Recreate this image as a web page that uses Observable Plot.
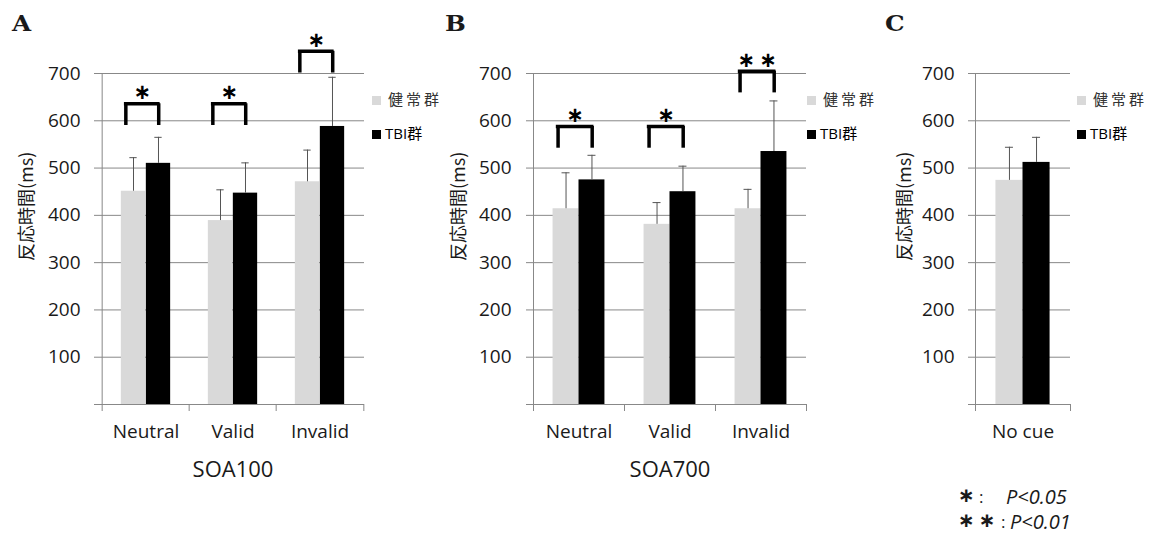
<!DOCTYPE html>
<html><head><meta charset="utf-8">
<script src="https://cdn.jsdelivr.net/npm/d3@7"></script>
<script src="https://cdn.jsdelivr.net/npm/@observablehq/plot@0.6"></script>
<style>
body{margin:0;background:#fff;}
#root{position:relative;width:1160px;height:535px;overflow:hidden;font-family:"Open Sans","Noto Sans CJK JP",sans-serif;color:#1a1a1a;}
.abs{position:absolute;white-space:nowrap;}
.letter{font-family:"DejaVu Serif",serif;font-weight:bold;font-size:22px;line-height:1;transform:scaleX(1.12);transform-origin:left top;}
.sw{position:absolute;width:9px;height:9px;}
.lg{position:absolute;font-size:15px;line-height:1;font-family:"Open Sans","Noto Sans CJK JP",sans-serif;}
.star{font-family:"DejaVu Sans",sans-serif;font-weight:bold;font-size:20px;line-height:1;}
.fn{font-size:20px;line-height:1;font-style:italic;}
</style></head><body><div id="root"></div>
<script>
// ---- data ----
const groups = ["健常群", "TBI群"];
const yTicks = [0, 100, 200, 300, 400, 500, 600, 700];
const yTitle = "反応時間(ms)";

const catsA = ["Neutral", "Valid", "Invalid"];
const healthyA = [451, 389, 471];
const healthySdA = [71, 65, 67];
const tbiA = [510, 447, 588];
const tbiSdA = [55, 64, 104];
const sigA = ["*", "*", "*"];
const sigTopA = [636, 636, 747];
const xTitleA = "SOA100";

const catsB = ["Neutral", "Valid", "Invalid"];
const healthyB = [414, 381, 414];
const healthySdB = [76, 46, 41];
const tbiB = [475, 450, 535];
const tbiSdB = [52, 54, 107];
const sigB = ["*", "*", "**"];
const sigTopB = [588, 588, 705];
const xTitleB = "SOA700";

const catsC = ["No cue"];
const healthyC = [474];
const healthySdC = [70];
const tbiC = [512];
const tbiSdC = [53];

const panelLetters = ["A", "B", "C"];
const footStars = ["*", "**"];
const footText = ["P<0.05", "P<0.01"];

// ---- drawing ----
const GRID = "#888888", TXT = "#1a1a1a", LIGHT = "#d9d9d9";
const root = document.getElementById("root");
const star = s => s.split("").map(() => "∗").join("\u2009");

function panel(o) {
  const n = o.cats.length;
  const bw = (o.width - o.ml - o.mr) / n;
  const H = [], T = [];
  o.cats.forEach((c, i) => {
    H.push({cat: c, value: o.healthy[i], sd: o.hsd[i]});
    T.push({cat: c, value: o.tbi[i], sd: o.tsd[i]});
  });
  const sig = (o.sig || []).map((s, i) => ({cat: o.cats[i], mark: star(s), top: o.sigTop[i], bottom: o.sigTop[i] - 46}));
  const hc = 0.3575 * bw, tc = 0.6425 * bw; // bar centres inside band
  const bL = 0.27 * bw, bR = 0.645 * bw;      // bracket ends inside band
  const marks = [
    Plot.ruleY(yTicks, {y: d => d, stroke: GRID, strokeWidth: 1}),
    Plot.axisY({ticks: yTicks, tickSize: 7, tickPadding: o.tp, stroke: GRID, fill: TXT, fontSize: 19,
                tickFormat: d => d === 0 ? "" : String(d), label: null}),
    Plot.ruleX([o.cats[0]], {x: d => d, dx: -bw / 2, y1: 0, y2: 700, stroke: GRID}),
    Plot.axisX({ticks: o.cats, tickSize: 7, tickFormat: () => "", dx: -bw / 2, stroke: GRID, label: null}),
    Plot.axisX({ticks: [o.cats[n - 1]], tickSize: 7, tickFormat: () => "", dx: bw / 2, stroke: GRID, label: null}),
    Plot.axisX({ticks: o.cats, tickSize: 0, tickPadding: 20, fontSize: 19, fill: TXT, label: null}),
    Plot.barY(H, {x: "cat", y: "value", fill: LIGHT, insetLeft: 0.215 * bw, insetRight: 0.5 * bw}),
    Plot.barY(T, {x: "cat", y: "value", fill: "#000", insetLeft: 0.5 * bw, insetRight: 0.215 * bw}),
    Plot.ruleX(H, {x: "cat", y1: "value", y2: d => d.value + d.sd, dx: hc - bw / 2, stroke: "#555"}),
    Plot.tickY(H, {x: "cat", y: d => d.value + d.sd, insetLeft: hc - 4, insetRight: bw - hc - 4, stroke: "#555"}),
    Plot.ruleX(T, {x: "cat", y1: "value", y2: d => d.value + d.sd, dx: tc - bw / 2, stroke: "#555"}),
    Plot.tickY(T, {x: "cat", y: d => d.value + d.sd, insetLeft: tc - 4, insetRight: bw - tc - 4, stroke: "#555"}),
    Plot.ruleX(sig, {x: "cat", y1: "bottom", y2: "top", dx: bL - bw / 2, stroke: "#000", strokeWidth: 3.5}),
    Plot.ruleX(sig, {x: "cat", y1: "bottom", y2: "top", dx: bR - bw / 2, stroke: "#000", strokeWidth: 3.5}),
    Plot.tickY(sig, {x: "cat", y: "top", insetLeft: bL - 1.75, insetRight: bw - bR - 1.75, stroke: "#000", strokeWidth: 3.5}),
    Plot.text(sig, {x: "cat", y: "top", text: "mark", dx: (bL + bR) / 2 - bw / 2, dy: -11, lineAnchor: "middle",
                    fontFamily: "DejaVu Sans", fontWeight: "bold", fontSize: 21, fill: "#000"}),
    Plot.text([yTitle], {frameAnchor: "left", text: d => d, rotate: -90, dx: o.ytx, dy: 22, lineAnchor: "middle",
                         textAnchor: "start", fontSize: 18, fill: TXT, fontFamily: "Noto Sans CJK JP"})
  ];
  if (o.xTitle) marks.push(Plot.text([o.xTitle], {frameAnchor: "bottom", text: d => d, dy: 65, lineAnchor: "middle", fontSize: 22, fill: TXT}));
  const svg = Plot.plot({
    width: o.width, height: 535,
    marginLeft: o.ml, marginRight: o.mr, marginTop: 73, marginBottom: 131,
    x: {type: "band", domain: o.cats, padding: 0, axis: null},
    y: {domain: [0, 700], axis: null},
    style: {fontFamily: '"Open Sans","Noto Sans CJK JP",sans-serif', background: "transparent", overflow: "visible"},
    marks
  });
  svg.style.position = "absolute";
  svg.style.left = o.left + "px";
  svg.style.top = "0px";
  root.appendChild(svg);
}

panel({left: 0, width: 370, ml: 101, mr: 6, tp: 14, ytx: -74.5, cats: catsA, healthy: healthyA, hsd: healthySdA, tbi: tbiA, tsd: tbiSdA, sig: sigA, sigTop: sigTopA, xTitle: xTitleA});
panel({left: 430, width: 380, ml: 103, mr: 4, tp: 15, ytx: -74, cats: catsB, healthy: healthyB, hsd: healthySdB, tbi: tbiB, tsd: tbiSdB, sig: sigB, sigTop: sigTopB, xTitle: xTitleB});
panel({left: 870, width: 205, ml: 105, mr: 5, tp: 14, ytx: -70, cats: catsC, healthy: healthyC, hsd: healthySdC, tbi: tbiC, tsd: tbiSdC});

// panel letters
[[12, 12], [445, 12], [885, 12]].forEach(([x, y], i) => {
  const d = document.createElement("div");
  d.className = "abs letter"; d.textContent = panelLetters[i];
  d.style.left = x + "px"; d.style.top = y + "px";
  root.appendChild(d);
});

// legends
[372, 807, 1077].forEach(x => {
  const s1 = document.createElement("div"); s1.className = "sw"; s1.style.background = LIGHT;
  s1.style.left = x + "px"; s1.style.top = "96px"; root.appendChild(s1);
  const t1 = document.createElement("div"); t1.className = "lg"; t1.textContent = groups[0];
  t1.style.left = (x + 16) + "px"; t1.style.top = "92px"; t1.style.letterSpacing = "3px"; t1.style.color = "#333";
  root.appendChild(t1);
  const s2 = document.createElement("div"); s2.className = "sw"; s2.style.background = "#000";
  s2.style.left = x + "px"; s2.style.top = "130px"; root.appendChild(s2);
  const t2 = document.createElement("div"); t2.className = "lg"; t2.textContent = groups[1];
  t2.style.left = (x + 13) + "px"; t2.style.top = "126px"; t2.style.color = "#000";
  root.appendChild(t2);
});

// footnote
[[487, 979, 1006], [512, 1001, 1010]].forEach(([y, cx, px], i) => {
  const s = document.createElement("div"); s.className = "abs star";
  s.textContent = star(footStars[i]) ; s.style.left = "958px"; s.style.top = (y - 2) + "px";
  root.appendChild(s);
  const c = document.createElement("div"); c.className = "abs"; c.style.fontSize = "17px"; c.style.lineHeight = "1";
  c.textContent = ":"; c.style.left = cx + "px"; c.style.top = (y + 1) + "px"; root.appendChild(c);
  const p = document.createElement("div"); p.className = "abs fn"; p.textContent = footText[i];
  p.style.left = px + "px"; p.style.top = (y) + "px"; root.appendChild(p);
});
</script>
</body></html>
